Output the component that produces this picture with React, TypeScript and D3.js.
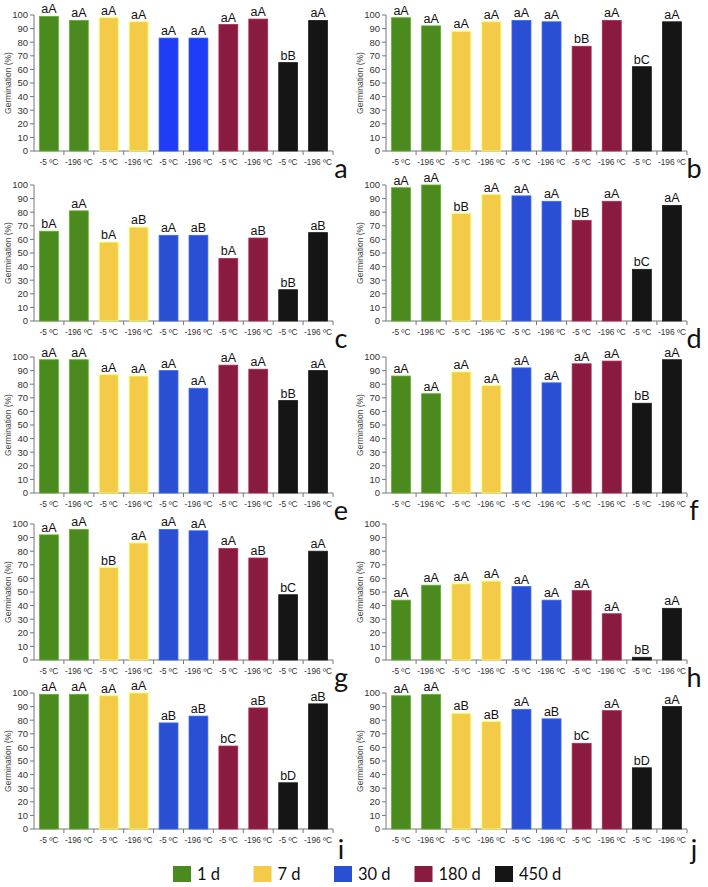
import React from 'react';
import * as d3 from 'd3';

// storage periods and temperatures (category order on every panel)
const periods = ['1 d', '7 d', '30 d', '180 d', '450 d'];
const temps = ['-5 ºC', '-196 ºC'];
const periodColors = ['#4a8a1f', '#f3cb48', '#2a4fd3', '#8a1b40', '#151515'];
const panelABlue = '#1f3df6';

const panelNames = ['a', 'b', 'c', 'd', 'e', 'f', 'g', 'h', 'i', 'j'];

const valsA = [99, 96, 98, 95, 83, 83, 93, 97, 65, 96];
const valsB = [98, 92, 88, 95, 96, 95, 77, 96, 62, 95];
const valsC = [66, 81, 58, 69, 63, 63, 46, 61, 23, 65];
const valsD = [98, 100, 79, 93, 92, 88, 74, 88, 38, 85];
const valsE = [98, 98, 87, 86, 90, 77, 94, 91, 68, 90];
const valsF = [86, 73, 89, 79, 92, 81, 95, 97, 66, 98];
const valsG = [92, 96, 68, 86, 96, 95, 82, 75, 48, 80];
const valsH = [44, 55, 56, 58, 54, 44, 51, 34, 2, 38];
const valsI = [99, 99, 98, 100, 78, 83, 61, 89, 34, 92];
const valsJ = [98, 99, 85, 79, 88, 81, 63, 87, 45, 90];

const lettersA = ['aA', 'aA', 'aA', 'aA', 'aA', 'aA', 'aA', 'aA', 'bB', 'aA'];
const lettersB = ['aA', 'aA', 'aA', 'aA', 'aA', 'aA', 'bB', 'aA', 'bC', 'aA'];
const lettersC = ['bA', 'aA', 'bA', 'aB', 'aA', 'aB', 'bA', 'aB', 'bB', 'aB'];
const lettersD = ['aA', 'aA', 'bB', 'aA', 'aA', 'aA', 'bB', 'aA', 'bC', 'aA'];
const lettersE = ['aA', 'aA', 'aA', 'aA', 'aA', 'aA', 'aA', 'aA', 'bB', 'aA'];
const lettersF = ['aA', 'aA', 'aA', 'aA', 'aA', 'aA', 'aA', 'aA', 'bB', 'aA'];
const lettersG = ['aA', 'aA', 'bB', 'aA', 'aA', 'aA', 'aA', 'aB', 'bC', 'aA'];
const lettersH = ['aA', 'aA', 'aA', 'aA', 'aA', 'aA', 'aA', 'aA', 'bB', 'aA'];
const lettersI = ['aA', 'aA', 'aA', 'aA', 'aB', 'aB', 'bC', 'aB', 'bD', 'aB'];
const lettersJ = ['aA', 'aA', 'aB', 'aB', 'aA', 'aB', 'bC', 'aA', 'bD', 'aA'];

const yTicks = [0, 10, 20, 30, 40, 50, 60, 70, 80, 90, 100];

const allVals = [valsA, valsB, valsC, valsD, valsE, valsF, valsG, valsH, valsI, valsJ];
const allLetters = [lettersA, lettersB, lettersC, lettersD, lettersE, lettersF, lettersG, lettersH, lettersI, lettersJ];

class App extends React.Component {
    node: any = null;

    componentDidMount() {
        this.draw();
    }

    draw() {
        var W = 708, H = 887;
        var svg = d3.select(this.node);
        svg.selectAll('*').remove();
        svg.attr('width', W).attr('height', H);

        var rowTops = [15, 185, 357, 524, 693];
        var plotH = 136;
        var colX = [[34, 333], [386, 687]];
        var letterX = [341, 694];
        var sans = '"Liberation Sans", Arial, sans-serif';

        var cats: string[] = [];
        periods.forEach(function(p) {
            temps.forEach(function(t) { cats.push(p + '|' + t); });
        });

        panelNames.forEach(function(name, pi) {
            var col = pi % 2, row = Math.floor(pi / 2);
            var top = rowTops[row];
            var x = d3.scaleBand().domain(cats).range(colX[col] as [number, number])
                .paddingInner(0.37).paddingOuter(0.185);
            var y = d3.scaleLinear().domain([0, 100]).range([top + plotH, top]);
            var g = svg.append('g').attr('class', 'panel');
            var vals = allVals[pi];
            var letters = allLetters[pi];
            var axisCol = '#777';

            // y axis
            g.append('line')
                .attr('x1', colX[col][0]).attr('x2', colX[col][0])
                .attr('y1', y(0)).attr('y2', y(100))
                .attr('stroke', axisCol).attr('stroke-width', 1);
            yTicks.forEach(function(t) {
                g.append('line')
                    .attr('x1', colX[col][0] - 4).attr('x2', colX[col][0])
                    .attr('y1', y(t)).attr('y2', y(t))
                    .attr('stroke', axisCol).attr('stroke-width', 1);
                g.append('text')
                    .attr('x', colX[col][0] - 6).attr('y', y(t))
                    .attr('dy', '0.35em')
                    .attr('text-anchor', 'end')
                    .style('font-family', sans).style('font-size', '9.5px')
                    .style('fill', '#333')
                    .text(t);
            });
            g.append('text')
                .attr('transform', 'translate(' + (colX[col][0] - 23) + ',' + (top + plotH / 2) + ') rotate(-90)')
                .attr('text-anchor', 'middle')
                .style('font-family', sans).style('font-size', '8.5px')
                .style('fill', '#444')
                .text('Germination (%)');

            // x axis
            g.append('line')
                .attr('x1', colX[col][0]).attr('x2', colX[col][1])
                .attr('y1', y(0)).attr('y2', y(0))
                .attr('stroke', axisCol).attr('stroke-width', 1);
            var step = x.step();
            cats.forEach(function(c) {
                var bx = (x(c) as number) - step * 0.185;
                g.append('line')
                    .attr('x1', bx + step).attr('x2', bx + step)
                    .attr('y1', y(0)).attr('y2', y(0) + 4)
                    .attr('stroke', axisCol).attr('stroke-width', 1);
                g.append('text')
                    .attr('x', (x(c) as number) + x.bandwidth() / 2)
                    .attr('y', y(0) + 14)
                    .attr('text-anchor', 'middle')
                    .style('font-family', sans).style('font-size', '8.3px')
                    .style('fill', '#333')
                    .text(c.split('|')[1]);
            });

            // bars
            cats.forEach(function(c, i) {
                var pIdx = Math.floor(i / 2);
                var fill = periodColors[pIdx];
                if (name === 'a' && pIdx === 2) fill = panelABlue;
                var bx = x(c) as number;
                g.append('rect')
                    .attr('x', bx).attr('y', y(vals[i]))
                    .attr('width', x.bandwidth()).attr('height', y(0) - y(vals[i]))
                    .attr('fill', fill)
                    .attr('stroke', (d3.color(fill) as any).brighter(0.7).toString())
                    .attr('stroke-width', 0.8);
                g.append('text')
                    .attr('x', bx + x.bandwidth() / 2)
                    .attr('y', y(vals[i]) - 3)
                    .attr('text-anchor', 'middle')
                    .style('font-family', sans).style('font-size', '12.5px')
                    .style('fill', '#111')
                    .text(letters[i]);
            });

            // panel letter
            g.append('text')
                .attr('x', letterX[col]).attr('y', y(0) + (row === 4 ? 30 : 27))
                .attr('text-anchor', 'middle')
                .style('font-family', 'Lato, "Open Sans", sans-serif').style('font-size', '27px')
                .style('fill', '#111')
                .text(name);
        });

        // legend
        var leg = svg.append('g').attr('class', 'legend');
        var lx = d3.scalePoint().domain(periods).range([173, 495]);
        periods.forEach(function(p, i) {
            leg.append('rect')
                .attr('x', lx(p) as number).attr('y', 866)
                .attr('width', 18).attr('height', 16)
                .attr('fill', periodColors[i]);
            leg.append('text')
                .attr('x', (lx(p) as number) + 24).attr('y', 880)
                .style('font-family', 'Lato, "Open Sans", sans-serif').style('font-size', '16.5px')
                .style('fill', '#111')
                .text(p);
        });
    }

    render() {
        return (
            <div style={{ position: 'absolute', left: 0, top: 0, background: '#fff' }}>
                <svg ref={(el) => { this.node = el; }} width={708} height={887}></svg>
            </div>
        );
    }
}

export default App;
